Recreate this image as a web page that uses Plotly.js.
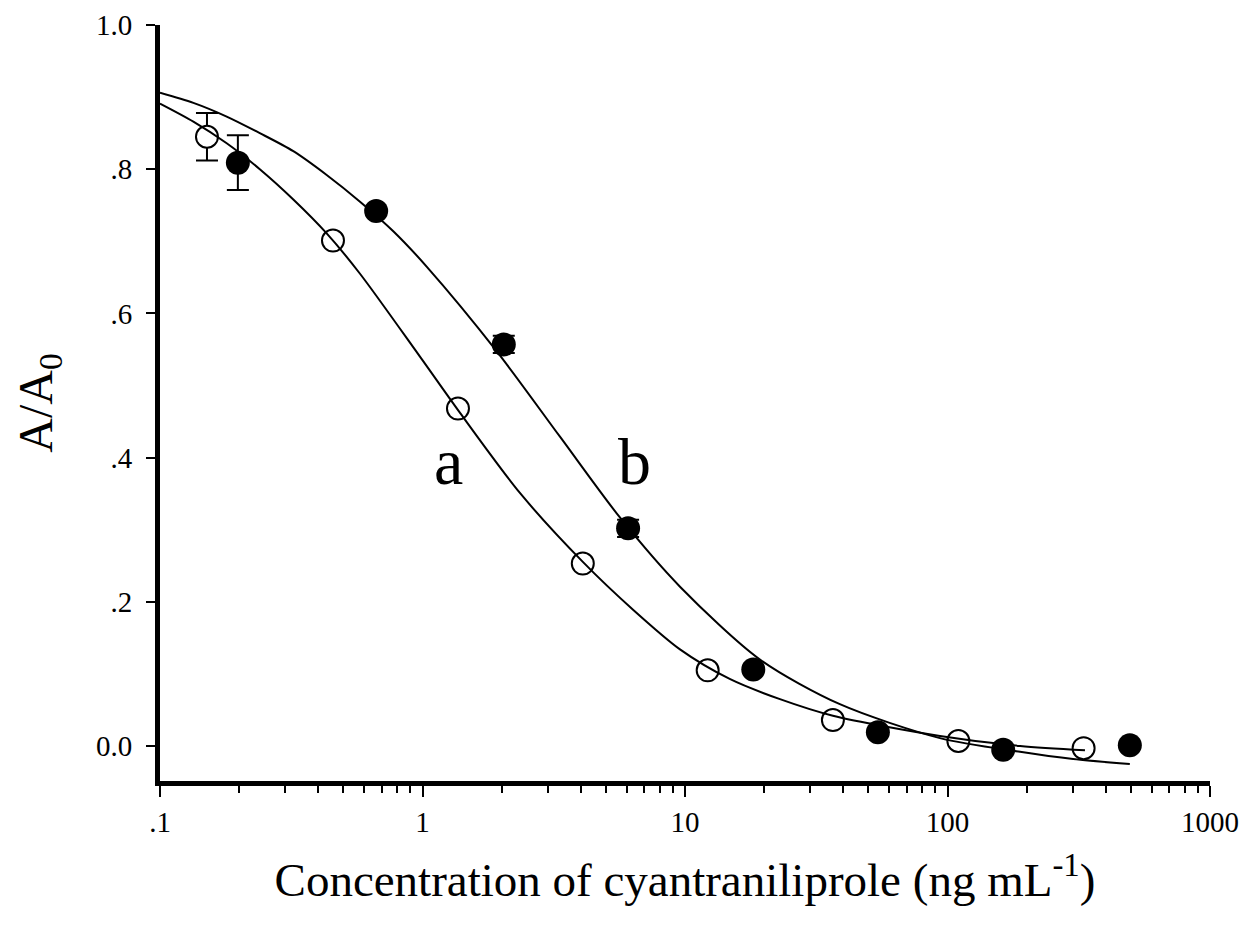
<!DOCTYPE html>
<html>
<head>
<meta charset="utf-8">
<script src="https://cdn.plot.ly/plotly-3.0.1.min.js"></script>
<style>html,body{margin:0;padding:0;background:#fff;}#chart{width:1245px;height:929px;}</style>
</head>
<body>
<div id="chart"></div>
<script>
// Series a (open circles)
const concA = [0.151, 0.456, 1.365, 4.08, 12.2, 36.6, 110, 330];
const ratioA = [0.845, 0.701, 0.468, 0.253, 0.105, 0.036, 0.007, -0.003];
const errA = [0.033, 0, 0, 0, 0, 0, 0, 0];
// Series b (filled circles)
const concB = [0.198, 0.666, 2.04, 6.07, 18.2, 54.3, 163, 495];
const ratioB = [0.809, 0.742, 0.557, 0.302, 0.106, 0.019, -0.005, 0.001];
const errB = [0.038, 0, 0.012, 0.012, 0, 0, 0, 0];
// Fitted curve a
const fitAx = [0.1, 0.134, 0.1795, 0.240, 0.322, 0.4315, 0.578, 0.978, 1.39, 2.35, 4.09, 6.34, 9.57, 14.8, 23.0, 36.6, 93.6, 189, 334];
const fitAy = [0.891, 0.866, 0.836, 0.800, 0.758, 0.711, 0.655, 0.540, 0.462, 0.351, 0.255, 0.189, 0.134, 0.093, 0.065, 0.042, 0.014, 0.000, -0.006];
// Fitted curve b
const fitBx = [0.1, 0.134, 0.1795, 0.240, 0.322, 0.4315, 0.578, 0.774, 1.037, 1.922, 3.34, 5.65, 9.57, 19.3, 38.9, 93.6, 189, 301, 495];
const fitBy = [0.906, 0.892, 0.873, 0.850, 0.825, 0.792, 0.755, 0.714, 0.665, 0.547, 0.429, 0.317, 0.221, 0.120, 0.058, 0.011, -0.008, -0.018, -0.025];
// Tick labels
const xTickVals = [0.1, 1, 10, 100, 1000];
const xTickText = ['.1', '1', '10', '100', '1000'];
const xMinorVals = [0.2,0.3,0.4,0.5,0.6,0.7,0.8,0.9,2,3,4,5,6,7,8,9,20,30,40,50,60,70,80,90,200,300,400,500,600,700,800,900];
const yTickVals = [0, 0.2, 0.4, 0.6, 0.8, 1.0];
const yTickText = ['0.0', '.2', '.4', '.6', '.8', '1.0'];
// Curve labels
const curveLabels = ['a', 'b'];
const curveLabelX = [1.26, 6.4];
const curveLabelY = [0.395, 0.395];

const FONT = 'Liberation Serif, Times New Roman, serif';

const traces = [
  {x: concA, y: ratioA, type: 'scatter', mode: 'markers',
   error_y: {type: 'data', array: errA, visible: true, color: '#000', thickness: 2, width: 11},
   marker: {symbol: 'circle', size: 22, color: '#fff', line: {color: '#000', width: 2}}},
  {x: concB, y: ratioB, type: 'scatter', mode: 'markers',
   error_y: {type: 'data', array: errB, visible: true, color: '#000', thickness: 2, width: 11},
   marker: {symbol: 'circle', size: 24, color: '#000', line: {color: '#000', width: 0}}},
  {x: fitAx, y: fitAy, type: 'scatter', mode: 'lines', line: {color: '#000', width: 2, shape: 'spline', smoothing: 0.8}},
  {x: fitBx, y: fitBy, type: 'scatter', mode: 'lines', line: {color: '#000', width: 2, shape: 'spline', smoothing: 0.8}}
];

const layout = {
  width: 1245, height: 929,
  margin: {l: 160, r: 35, t: 25, b: 148},
  paper_bgcolor: '#fff', plot_bgcolor: '#fff',
  showlegend: false,
  font: {family: FONT, color: '#000'},
  xaxis: {
    type: 'log', range: [-1, 3],
    tickmode: 'array', tickvals: xTickVals, ticktext: xTickText,
    ticks: 'outside', ticklen: 11, tickwidth: 2, tickcolor: '#000',
    minor: {tickmode: 'array', tickvals: xMinorVals, ticks: 'outside', ticklen: 7, tickwidth: 2, tickcolor: '#000', showgrid: false},
    showline: true, linewidth: 5, linecolor: '#000',
    showgrid: false, zeroline: false,
    tickfont: {family: FONT, size: 29, color: '#000'},
    title: {text: 'Concentration of cyantraniliprole (ng mL<sup>-1</sup>)', font: {family: FONT, size: 47, color: '#000'}, standoff: 28}
  },
  yaxis: {
    range: [-0.0485, 1.0],
    tickmode: 'array', tickvals: yTickVals, ticktext: yTickText,
    ticks: 'outside', ticklen: 9, tickwidth: 2, tickcolor: '#000',
    ticklabelstandoff: 8,
    showline: true, linewidth: 5, linecolor: '#000',
    showgrid: false, zeroline: false,
    tickfont: {family: FONT, size: 29, color: '#000'},
    title: {text: 'A/A<sub>0</sub>', font: {family: FONT, size: 48, color: '#000'}, standoff: 30}
  },
  annotations: curveLabels.map((t, i) => ({
    text: t, x: Math.log10(curveLabelX[i]), y: curveLabelY[i], xref: 'x', yref: 'y',
    showarrow: false, xanchor: 'center', yanchor: 'middle',
    font: {family: FONT, size: 66, color: '#000'}
  }))
};

Plotly.newPlot('chart', traces, layout, {displayModeBar: false, staticPlot: true});
</script>
</body>
</html>
